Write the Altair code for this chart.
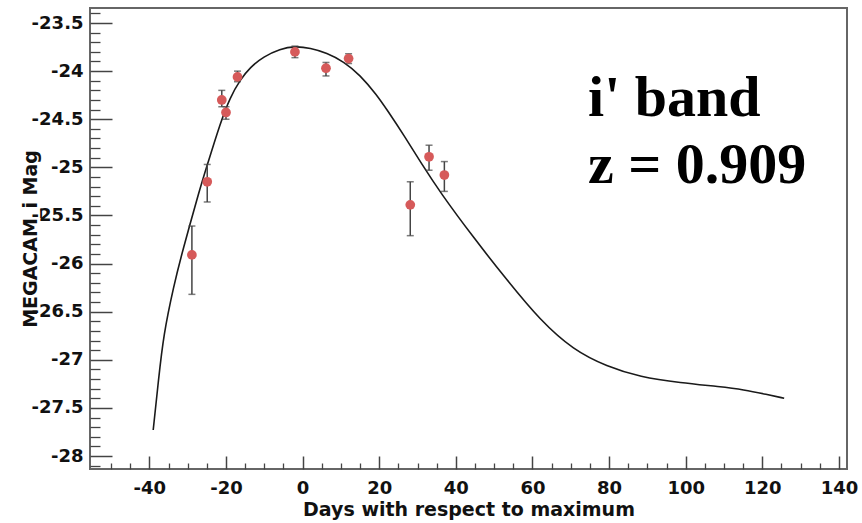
import altair as alt
import pandas as pd

# ---- photometry (days from maximum, MEGACAM i magnitude, error bar ends) ----
days = [-28.9, -24.9, -21.1, -20.0, -17.0, -2.0, 6.1, 12.0, 28.1, 33.0, 37.0]
mags = [-25.91, -25.15, -24.30, -24.43, -24.06, -23.80, -23.97, -23.87, -25.39, -24.89, -25.08]
err_hi = [-25.61, -24.97, -24.20, -24.37, -24.00, -23.74, -23.91, -23.82, -25.15, -24.77, -24.94]
err_lo = [-26.32, -25.36, -24.37, -24.50, -24.11, -23.86, -24.05, -23.92, -25.71, -25.03, -25.25]

# ---- light-curve model ----
curve_days = [-39.0, -37.6, -36.3, -33.7, -31.3, -26.8, -25.0, -21.5, -18.9, -16.3,
              -13.7, -10.2, -5.9, -2.0, 2.0, 6.3, 10.7, 15.0, 19.4, 22.0,
              26.5, 31.0, 35.9, 44.6, 53.3, 62.0, 70.7, 79.4, 88.1,
              98.6, 109.0, 115.1, 121.2, 125.7]
curve_mags = [-27.73, -27.20, -26.74, -26.24, -25.86, -25.22, -24.99, -24.54, -24.27, -24.09,
              -23.96, -23.85, -23.77, -23.74, -23.76, -23.81, -23.90, -24.04, -24.25, -24.40,
              -24.67, -24.96, -25.26, -25.73, -26.17, -26.59, -26.90, -27.07, -27.18,
              -27.24, -27.28, -27.31, -27.36, -27.40]

# ---- annotation ----
ann_text = ["i' band", "z = 0.909"]
ann_day = [74.5, 74.5]
ann_mag = [-24.47, -25.16]

# ---- axis ticks ----
x_major = [-40, -20, 0, 20, 40, 60, 80, 100, 120, 140]
y_major = [-28.0, -27.5, -27.0, -26.5, -26.0, -25.5, -25.0, -24.5, -24.0, -23.5]
x_minor = [v for v in range(-50, 141, 5) if v % 20 != 0]
y_minor_all = [round(-28.1 + 0.1 * i, 1) for i in range(48)]
y_minor = [v for v in y_minor_all if abs(v * 2 - round(v * 2)) > 1e-6]

W, H = 757, 461

pts = pd.DataFrame({"day": days, "mag": mags, "hi": err_hi, "lo": err_lo})
caps = pd.DataFrame({"day": days + days, "mag": err_hi + err_lo})
curve_df = pd.DataFrame({"day": curve_days, "mag": curve_mags})
ann = pd.DataFrame({"day": ann_day, "mag": ann_mag, "text": ann_text})

xs = alt.Scale(domain=[-55.5, 142.1], nice=False, zero=False)
ys = alt.Scale(domain=[-28.135, -23.344], nice=False, zero=False)

FONT = "DejaVu Sans"

x_main = alt.Axis(values=x_major, orient="bottom", ticks=False, tickSize=0, domain=False, grid=False,
                  labelPadding=10, labelExpr="'' + datum.value",
                  title="Days with respect to maximum", titleFont=FONT, titleFontWeight="bold",
                  titleFontSize=19, titleColor="#111", titleY=46, titleBaseline="alphabetic")
y_main = alt.Axis(values=y_major, orient="left", ticks=False, tickSize=0, domain=False, grid=False,
                  labelPadding=7, labelExpr="'' + datum.value",
                  title="MEGACAM_i Mag", titleFont=FONT, titleFontWeight="bold", titleFontSize=19,
                  titleColor="#111", titleAngle=270, titleX=-54, titleY=H / 2,
                  titleBaseline="alphabetic", titleAlign="center")

x_maj_ticks = alt.Axis(values=x_major, orient="bottom", labels=False, domain=False, grid=False,
                       ticks=True, tickSize=13, offset=-13, title=None, tickColor="#444", tickWidth=1.5)
y_maj_ticks = alt.Axis(values=y_major, orient="left", labels=False, domain=False, grid=False,
                       ticks=True, tickSize=22, offset=-22, title=None, tickColor="#444", tickWidth=1.5)
x_min_ticks = alt.Axis(values=x_minor, orient="bottom", labels=False, domain=False, grid=False,
                       ticks=True, tickSize=6, offset=-6, title=None, tickColor="#444", tickWidth=1.3)
y_min_ticks = alt.Axis(values=y_minor, orient="left", labels=False, domain=False, grid=False,
                       ticks=True, tickSize=10, offset=-10, title=None, tickColor="#444", tickWidth=1.3)

curve = alt.Chart(curve_df).mark_line(color="#1a1a1a", strokeWidth=1.6, interpolate="basis").encode(
    x=alt.X("day:Q", scale=xs, axis=x_main),
    y=alt.Y("mag:Q", scale=ys, axis=y_main),
)

bars = alt.Chart(pts).mark_rule(color="#444", strokeWidth=1.5).encode(
    x=alt.X("day:Q", scale=xs, axis=x_maj_ticks),
    y=alt.Y("hi:Q", scale=ys, axis=y_maj_ticks),
    y2="lo:Q",
)

cap_layer = alt.Chart(caps).mark_tick(color="#444", orient="horizontal", size=7, thickness=1.5).encode(
    x=alt.X("day:Q", scale=xs, axis=x_min_ticks),
    y=alt.Y("mag:Q", scale=ys, axis=y_min_ticks),
)

dots = alt.Chart(pts).mark_circle(color="#d65a5a", size=95, opacity=1).encode(
    x=alt.X("day:Q", scale=xs, axis=None),
    y=alt.Y("mag:Q", scale=ys, axis=None),
)

labels = alt.Chart(ann).mark_text(font="Liberation Serif", fontWeight="bold", fontSize=58,
                                  align="left", baseline="alphabetic", color="#000").encode(
    x=alt.X("day:Q", scale=xs, axis=None),
    y=alt.Y("mag:Q", scale=ys, axis=None),
    text="text:N",
)

chart = alt.layer(curve, bars, cap_layer, dots, labels).resolve_axis(
    x="independent", y="independent"
).properties(
    width=W, height=H,
    autosize=alt.AutoSizeParams(type="none"),
    padding={"left": 90, "top": 8, "right": 15, "bottom": 54},
    background="white",
).configure_view(
    stroke="#666", strokeWidth=2
).configure_axis(
    labelFont=FONT, labelFontWeight="bold", labelFontSize=18, labelColor="#111"
)

chart.save("out.html", embed_options={"renderer": "svg", "actions": False})
